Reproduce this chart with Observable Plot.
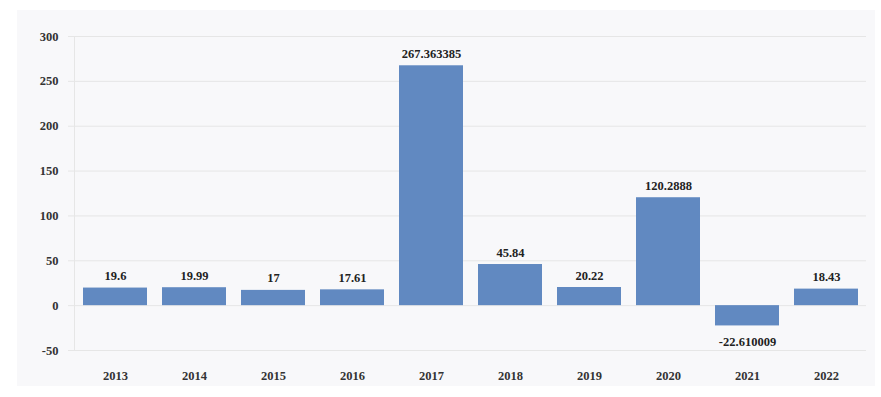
<!DOCTYPE html>
<html>
<head>
<meta charset="utf-8">
<script src="https://cdn.jsdelivr.net/npm/d3@7"></script>
<script src="https://cdn.jsdelivr.net/npm/@observablehq/plot@0.6"></script>
<style>
  html, body { margin: 0; padding: 0; background: #ffffff; }
  #wrap { position: relative; width: 881px; height: 397px; }
  #panel { position: absolute; left: 17px; top: 10px; width: 858px; height: 376px; background: #f8f8fa; }
  #chart { position: absolute; left: 0; top: 0; }
  #chart svg { background: transparent !important; }
</style>
</head>
<body>
<div id="wrap"><div id="panel"></div><div id="chart"></div></div>
<script>
const years = ["2013","2014","2015","2016","2017","2018","2019","2020","2021","2022"];
const values = [19.6, 19.99, 17, 17.61, 267.363385, 45.84, 20.22, 120.2888, -22.610009, 18.43];
const labels = ["19.6","19.99","17","17.61","267.363385","45.84","20.22","120.2888","-22.610009","18.43"];
const yTicks = [-50, 0, 50, 100, 150, 200, 250, 300];

const data = years.map((y, i) => ({year: y, value: values[i], label: labels[i]}));
const pos = data.filter(d => d.value >= 0);
const neg = data.filter(d => d.value < 0);

const font = "'Liberation Serif', 'DejaVu Serif', serif";
const fs = 12.5;

const chart = Plot.plot({
  width: 881,
  height: 397,
  marginLeft: 74,
  marginRight: 15,
  marginTop: 36,
  marginBottom: 47,
  style: {background: "transparent", fontFamily: font, fontSize: fs + "px", color: "#333"},
  x: {domain: years, range: [75, 866], paddingInner: 0.19, paddingOuter: 0.1, label: null},
  y: {domain: [-50, 300], label: null},
  marks: [
    Plot.gridY(yTicks, {stroke: "#e6e6e6", strokeOpacity: 1, strokeWidth: 1}),
    Plot.frame({anchor: "left", stroke: "#e6e6e6"}),
    Plot.axisY(yTicks, {tickSize: 6, stroke: "#e6e6e6", tickPadding: 10, fill: "#333", fontSize: fs, fontWeight: 600, tickFormat: d => String(d)}),
    Plot.axisX({tickSize: 0, tickPadding: 21, fill: "#333", fontSize: fs, fontWeight: 600}),
    Plot.barY(data, {x: "year", y: "value", fill: "#6189c1"}),
    Plot.text(pos, {x: "year", y: "value", text: "label", dy: -12, fill: "#222", fontSize: fs, fontWeight: 600}),
    Plot.text(neg, {x: "year", y: "value", text: "label", dy: 16, fill: "#222", fontSize: fs, fontWeight: 600})
  ]
});
document.getElementById("chart").appendChild(chart);
</script>
</body>
</html>
